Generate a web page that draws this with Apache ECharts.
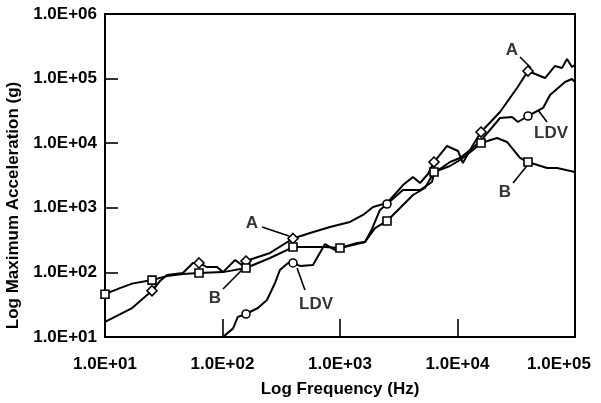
<!DOCTYPE html>
<html>
<head>
<meta charset="utf-8">
<script src="https://cdn.jsdelivr.net/npm/echarts@6/dist/echarts.min.js"></script>
<style>
  html, body { margin: 0; padding: 0; background: #fff; }
  #chart { width: 601px; height: 403px; }
</style>
</head>
<body>
<div id="chart"></div>
<script>
// curve A (diamonds)
var aFreq = [10, 17, 25.12, 29.4, 33.7, 46, 56, 63.1, 73.8, 89.8, 101, 128, 146, 158.5, 254, 398.1,
  556, 822, 1216, 1570, 1910, 2512, 3055, 3436, 4178, 4797, 5608, 6310, 8147, 10100, 11100, 13550,
  15849, 23000, 32100, 39811, 55600, 67600, 77500, 85500, 94200, 100000];
var aAcc = [17.1, 28, 52, 73.6, 91, 98, 140, 140, 121, 121, 101, 156, 130, 150, 200, 335,
  408, 505, 603, 774, 1028, 1186, 1757, 2250, 3000, 2423, 3337, 5115, 9060, 7575, 4935, 9385,
  14890, 30400, 71500, 131000, 102000, 157000, 146000, 201000, 151000, 163000];
var aMarks = [25.12, 63.1, 158.5, 398.1, 6310, 15849, 39811];

// curve B (squares)
var bFreq = [10, 13.4, 17, 25.12, 33.7, 46, 63.1, 101, 158.5, 254, 398.1, 745, 1000, 1396, 1633,
  1986, 2512, 3243, 4178, 5289, 6310, 8630, 10500, 13550, 15849, 21700, 26400, 34000, 39811,
  57800, 70300, 100000];
var bAcc = [46, 57, 67, 76, 88, 94.5, 98, 101, 117, 167, 247, 247, 239, 275, 296,
  486, 625, 993, 1578, 2026, 3580, 4439, 5496, 7852, 10070, 12030, 10440, 5906, 5115,
  4131, 4131, 3580];
var bMarks = [10, 25.12, 63.1, 158.5, 398.1, 1000, 2512, 6310, 15849, 39811];

// LDV (circles)
var lFreq = [101, 123, 135, 146, 158.5, 200, 239, 280, 308, 361, 398.1, 457, 589, 745, 942, 1000,
  1396, 1633, 1873, 2188, 2512, 3436, 4797, 6066, 6310, 8630, 10500, 12800, 15849, 23000,
  29100, 32700, 39811, 53500, 61300, 82200, 94200, 100000];
var lAcc = [10, 13.6, 20.5, 21.5, 22.7, 28.1, 37.4, 68.6, 109, 140, 140, 126, 130, 275, 214, 239,
  285, 296, 470, 925, 1145, 1887, 1887, 2508, 3456, 5115, 5906, 7852, 11000, 24550,
  25450, 21280, 26370, 35100, 55700, 88500, 98600, 88500];
var lMarks = [158.5, 398.1, 2512, 39811];

// annotation texts and leader lines [f, g]
var noteText = ['A', 'B', 'LDV', 'A', 'LDV', 'B'];
var notePos = [[178, 582], [86.3, 40.2], [625, 32.4], [29100, 277000], [62500, 14400], [25300, 1760]];
var leaders = [
  [[217, 505], [368, 366]],
  [[101, 55.3], [155, 121]],
  [[503, 53.5], [431, 117]],
  [[34000, 216000], [42300, 146000]],
  [[48400, 32700], [57800, 21300]],
  [[29700, 2420], [41400, 5110]]
];

var FONT = 'Liberation Sans, Arial, Helvetica, sans-serif';

function isMark(f, marks) {
  for (var i = 0; i < marks.length; i++) {
    if (Math.abs(f / marks[i] - 1) < 0.01) return true;
  }
  return false;
}

function build(freq, acc, marks, symbol, size) {
  return freq.map(function (f, i) {
    var item = { value: [f, acc[i]] };
    if (isMark(f, marks)) {
      item.symbol = symbol;
      item.symbolSize = size;
    }
    return item;
  });
}

function curve(name, data) {
  return {
    name: name,
    type: 'line',
    data: data,
    symbol: 'none',
    showSymbol: true,
    z: 3,
    lineStyle: { color: '#000', width: 2 },
    itemStyle: { color: '#fff', borderColor: '#000', borderWidth: 1.6 }
  };
}

function expLabel(v) {
  var e = Math.round(Math.log10(v));
  return '1.0E+' + (e < 10 ? '0' : '') + e;
}

// last x label sits left of the axis end, as in the original
function xLabel(v) {
  var s = expLabel(v);
  return v >= 99999 ? '{last|' + s + '}' : s;
}

var series = [
  curve('A', build(aFreq, aAcc, aMarks, 'diamond', 10)),
  curve('B', build(bFreq, bAcc, bMarks, 'rect', 8)),
  curve('LDV', build(lFreq, lAcc, lMarks, 'circle', 8))
];

leaders.forEach(function (seg) {
  series.push({
    type: 'line',
    data: seg,
    symbol: 'none',
    z: 2,
    lineStyle: { color: '#000', width: 1.6 }
  });
});

series.push({
  type: 'scatter',
  symbolSize: 0,
  data: notePos.map(function (p, i) { return { value: p, name: noteText[i] }; }),
  label: {
    show: true,
    position: 'inside',
    formatter: '{b}',
    color: '#000',
    fontSize: 17,
    fontWeight: 'bold',
    fontFamily: FONT
  }
});

var chart = echarts.init(document.getElementById('chart'), null, { renderer: 'canvas' });
chart.setOption({
  animation: false,
  backgroundColor: '#fff',
  grid: {
    left: 105, right: 26, top: 14, bottom: 66,
    outerBoundsMode: 'none',
    containLabel: false,
    show: true, borderColor: '#000', borderWidth: 2
  },
  xAxis: {
    type: 'log',
    logBase: 10,
    min: 10,
    max: 100000,
    name: 'Log Frequency (Hz)',
    nameLocation: 'middle',
    nameGap: 44,
    nameTextStyle: { color: '#000', fontSize: 17, fontWeight: 'bold', fontFamily: FONT },
    axisLine: { lineStyle: { color: '#000', width: 2 } },
    axisTick: { inside: true, length: 18, lineStyle: { color: '#000', width: 1.6 } },
    minorTick: { show: false },
    splitLine: { show: false },
    axisLabel: {
      color: '#000', fontSize: 17, fontWeight: 'bold', fontFamily: FONT, margin: 19,
      formatter: xLabel,
      rich: { last: { fontSize: 17, fontWeight: 'bold', fontFamily: FONT, color: '#000', padding: [0, 32, 0, 0] } }
    }
  },
  yAxis: {
    type: 'log',
    logBase: 10,
    min: 10,
    max: 1000000,
    name: 'Log Maximum Acceleration (g)',
    nameLocation: 'middle',
    nameRotate: 90,
    nameGap: 75,
    nameTextStyle: { color: '#000', fontSize: 17, fontWeight: 'bold', fontFamily: FONT, padding: [0, 60, 0, 0] },
    axisLine: { lineStyle: { color: '#000', width: 2 } },
    axisTick: { inside: true, length: 13, lineStyle: { color: '#000', width: 1.6 } },
    splitLine: { show: false },
    axisLabel: { color: '#000', fontSize: 17, fontWeight: 'bold', fontFamily: FONT, margin: 8, formatter: expLabel }
  },
  series: series
});
</script>
</body>
</html>
